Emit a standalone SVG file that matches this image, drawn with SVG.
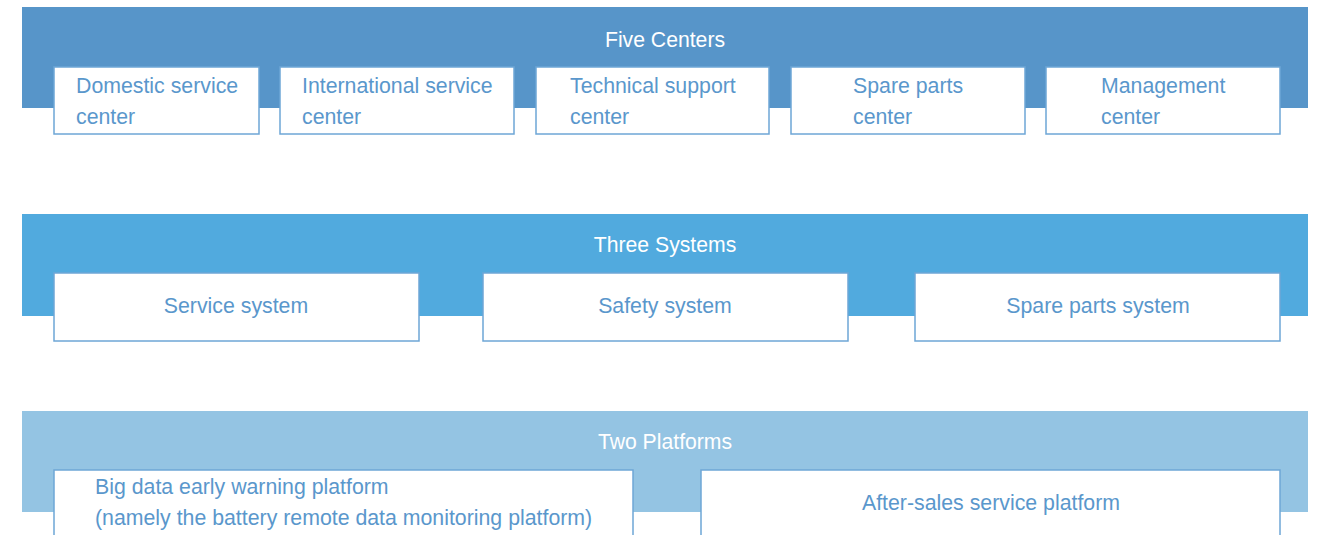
<svg xmlns="http://www.w3.org/2000/svg" width="1323" height="535" viewBox="0 0 1323 535">
<style>
.title{font-family:"Liberation Sans",Arial,sans-serif;font-size:21.2px;fill:#ffffff;text-anchor:middle}
.box{fill:#ffffff;stroke:#6EA6D6;stroke-width:1.5}
.t{font-family:"Liberation Sans",Arial,sans-serif;font-size:21.3px;fill:#5A97CC}
.c{text-anchor:middle}
</style>
<rect width="1323" height="535" fill="#ffffff"/>
<g id="band-five-centers">
<rect x="22" y="7" width="1286" height="101" fill="#5795C9"/>
<text class="title" x="665" y="47">Five Centers</text>
</g>
<g id="domestic-service-center">
<rect class="box" x="54" y="67" width="205" height="67"/>
<text class="t" x="76" y="93">Domestic service</text>
<text class="t" x="76" y="124">center</text>
</g>
<g id="international-service-center">
<rect class="box" x="280" y="67" width="234" height="67"/>
<text class="t" x="302" y="93">International service</text>
<text class="t" x="302" y="124">center</text>
</g>
<g id="technical-support-center">
<rect class="box" x="536" y="67" width="233" height="67"/>
<text class="t" x="570" y="93">Technical support</text>
<text class="t" x="570" y="124">center</text>
</g>
<g id="spare-parts-center">
<rect class="box" x="791" y="67" width="234" height="67"/>
<text class="t" x="853" y="93">Spare parts</text>
<text class="t" x="853" y="124">center</text>
</g>
<g id="management-center">
<rect class="box" x="1046" y="67" width="234" height="67"/>
<text class="t" x="1101" y="93">Management</text>
<text class="t" x="1101" y="124">center</text>
</g>
<g id="band-three-systems">
<rect x="22" y="214" width="1286" height="102" fill="#51AADE"/>
<text class="title" x="665" y="252">Three Systems</text>
</g>
<g id="service-system">
<rect class="box" x="54" y="273" width="365" height="68"/>
<text class="t c" x="236" y="313">Service system</text>
</g>
<g id="safety-system">
<rect class="box" x="483" y="273" width="365" height="68"/>
<text class="t c" x="665" y="313">Safety system</text>
</g>
<g id="spare-parts-system">
<rect class="box" x="915" y="273" width="365" height="68"/>
<text class="t c" x="1098" y="313">Spare parts system</text>
</g>
<g id="band-two-platforms">
<rect x="22" y="411" width="1286" height="101" fill="#94C4E3"/>
<text class="title" x="665" y="449">Two Platforms</text>
</g>
<g id="big-data-platform">
<rect class="box" x="54" y="470" width="579" height="80"/>
<text class="t" x="95" y="494">Big data early warning platform</text>
<text class="t" x="95" y="525">(namely the battery remote data monitoring platform)</text>
</g>
<g id="after-sales-platform">
<rect class="box" x="701" y="470" width="579" height="80"/>
<text class="t c" x="991" y="510">After-sales service platform</text>
</g>
<g id="connectors"></g>
</svg>
